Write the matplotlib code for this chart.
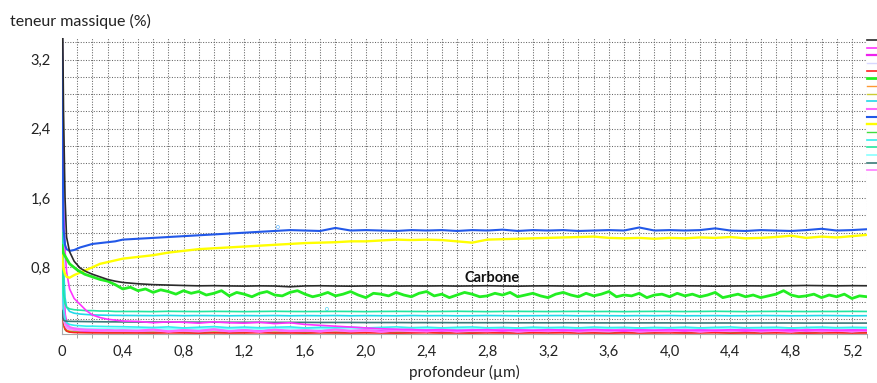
import numpy as np
import matplotlib.pyplot as plt

# ==========================================
# Data
# ==========================================

# depth grid (µm) for most profiles
depth = [0, 0.005, 0.01, 0.02, 0.03, 0.05, 0.08, 0.12, 0.16, 0.2, 0.25, 0.3, 0.35, 0.4,
         0.5, 0.6, 0.7, 0.8, 0.9, 1.0, 1.1,
         1.2, 1.3, 1.4, 1.5, 1.6, 1.7, 1.8,
         1.9, 2.0, 2.1, 2.2, 2.3, 2.4, 2.5,
         2.6, 2.7, 2.8, 2.9, 3.0, 3.1, 3.2,
         3.3, 3.4, 3.5, 3.6, 3.7, 3.8, 3.9,
         4.0, 4.1, 4.2, 4.3, 4.4, 4.5, 4.6,
         4.7, 4.8, 4.9, 5.0, 5.1, 5.2, 5.3]

# finer depth grid for the noisy green profile
depth_fine = [0, 0.005, 0.01, 0.02, 0.03, 0.04,
              0.05, 0.10, 0.15, 0.20, 0.25, 0.30, 0.35, 0.40, 0.45, 0.50,
              0.55, 0.60, 0.65, 0.70, 0.75, 0.80, 0.85, 0.90,
              0.95, 1.00, 1.05, 1.10, 1.15, 1.20, 1.25, 1.30,
              1.35, 1.40, 1.45, 1.50, 1.55, 1.60, 1.65, 1.70,
              1.75, 1.80, 1.85, 1.90, 1.95, 2.00, 2.05, 2.10,
              2.15, 2.20, 2.25, 2.30, 2.35, 2.40, 2.45, 2.50,
              2.55, 2.60, 2.65, 2.70, 2.75, 2.80, 2.85, 2.90,
              2.95, 3.00, 3.05, 3.10, 3.15, 3.20, 3.25, 3.30,
              3.35, 3.40, 3.45, 3.50, 3.55, 3.60, 3.65, 3.70,
              3.75, 3.80, 3.85, 3.90, 3.95, 4.00, 4.05, 4.10,
              4.15, 4.20, 4.25, 4.30, 4.35, 4.40, 4.45, 4.50,
              4.55, 4.60, 4.65, 4.70, 4.75, 4.80, 4.85, 4.90,
              4.95, 5.00, 5.05, 5.10, 5.15, 5.20, 5.25, 5.30]

carbone = [3.6, 3.5, 2.6, 1.6, 1.15, 0.98, 0.87, 0.79, 0.75, 0.72, 0.69, 0.66, 0.64, 0.625,
           0.610, 0.600, 0.595, 0.590, 0.586, 0.588, 0.585,
           0.583, 0.586, 0.584, 0.575, 0.585, 0.587, 0.584,
           0.582, 0.585, 0.586, 0.583, 0.585, 0.584, 0.586,
           0.583, 0.585, 0.587, 0.584, 0.582, 0.585, 0.586,
           0.584, 0.583, 0.585, 0.584, 0.586, 0.585, 0.583,
           0.584, 0.586, 0.585, 0.582, 0.584, 0.586, 0.585,
           0.584, 0.587, 0.590, 0.588, 0.586, 0.588, 0.587]

blue = [3.6, 2.0, 1.25, 1.06, 1.01, 0.99, 1.00, 1.03, 1.05, 1.07, 1.08, 1.09, 1.10, 1.12,
        1.13, 1.14, 1.15, 1.16, 1.17, 1.18, 1.19,
        1.20, 1.21, 1.22, 1.23, 1.225, 1.22, 1.255,
        1.225, 1.23, 1.225, 1.22, 1.23, 1.225, 1.23,
        1.22, 1.23, 1.225, 1.235, 1.22, 1.23, 1.225,
        1.23, 1.22, 1.225, 1.23, 1.225, 1.26, 1.225,
        1.23, 1.225, 1.23, 1.25, 1.225, 1.22, 1.23,
        1.225, 1.22, 1.23, 1.245, 1.225, 1.23, 1.24]

yellow = [0.95, 0.85, 0.78, 0.72, 0.69, 0.68, 0.71, 0.74, 0.77, 0.80, 0.84, 0.86, 0.88, 0.90,
          0.92, 0.94, 0.97, 0.99, 1.01, 1.02, 1.03,
          1.04, 1.05, 1.06, 1.07, 1.08, 1.085, 1.09,
          1.10, 1.10, 1.11, 1.12, 1.115, 1.12, 1.115,
          1.10, 1.085, 1.12, 1.125, 1.13, 1.135, 1.14,
          1.145, 1.15, 1.155, 1.14, 1.135, 1.14, 1.13,
          1.14, 1.135, 1.145, 1.14, 1.15, 1.135, 1.14,
          1.15, 1.165, 1.14, 1.155, 1.145, 1.16, 1.175]

green = [1.05, 1.0, 0.96, 0.93, 0.9, 0.87,
         0.84, 0.77, 0.72, 0.69, 0.66, 0.64, 0.60, 0.55, 0.57, 0.53,
         0.55, 0.51, 0.54, 0.52, 0.49, 0.53, 0.50, 0.52,
         0.48, 0.50, 0.53, 0.47, 0.51, 0.49, 0.46, 0.50,
         0.52, 0.48, 0.47, 0.51, 0.53, 0.49, 0.46, 0.48,
         0.51, 0.47, 0.49, 0.52, 0.48, 0.45, 0.50, 0.49,
         0.47, 0.51, 0.48, 0.46, 0.50, 0.52, 0.47, 0.49,
         0.45, 0.48, 0.51, 0.49, 0.46, 0.47, 0.50, 0.48,
         0.51, 0.46, 0.48, 0.50, 0.47, 0.45, 0.49, 0.51,
         0.48, 0.46, 0.50, 0.47, 0.49, 0.52, 0.46, 0.48,
         0.47, 0.50, 0.45, 0.48, 0.49, 0.46, 0.50, 0.47,
         0.49, 0.46, 0.48, 0.51, 0.45, 0.47, 0.49, 0.46,
         0.48, 0.45, 0.47, 0.49, 0.53, 0.48, 0.46, 0.47,
         0.49, 0.45, 0.48, 0.46, 0.49, 0.44, 0.47, 0.46]

spring = [1.2, 0.8, 0.5, 0.38, 0.34, 0.32, 0.31, 0.305, 0.30, 0.30, 0.295, 0.295, 0.29, 0.29,
          0.29, 0.288, 0.292, 0.29, 0.289, 0.291, 0.29,
          0.288, 0.29, 0.292, 0.29, 0.289, 0.29, 0.291,
          0.29, 0.288, 0.29, 0.291, 0.29, 0.289, 0.29,
          0.292, 0.29, 0.288, 0.29, 0.291, 0.29, 0.289,
          0.29, 0.291, 0.289, 0.29, 0.288, 0.29, 0.291,
          0.29, 0.289, 0.29, 0.292, 0.29, 0.288, 0.29,
          0.291, 0.29, 0.289, 0.29, 0.29, 0.291, 0.29]

cyan = [3.0, 1.6, 0.8, 0.45, 0.34, 0.29, 0.27, 0.26, 0.255, 0.25, 0.248, 0.246, 0.245, 0.244,
        0.243, 0.242, 0.244, 0.241, 0.243, 0.242, 0.24,
        0.242, 0.241, 0.243, 0.24, 0.242, 0.241, 0.243,
        0.24, 0.242, 0.241, 0.24, 0.243, 0.241, 0.242,
        0.24, 0.241, 0.243, 0.242, 0.24, 0.241, 0.242,
        0.243, 0.24, 0.242, 0.241, 0.24, 0.242, 0.241,
        0.243, 0.24, 0.241, 0.242, 0.24, 0.241, 0.243,
        0.242, 0.24, 0.241, 0.243, 0.242, 0.24, 0.241]

dark_teal = [0.3, 0.22, 0.19, 0.18, 0.178, 0.176, 0.175, 0.174, 0.173, 0.172, 0.171, 0.17, 0.17, 0.169,
             0.168, 0.168, 0.167, 0.167, 0.166, 0.166, 0.165,
             0.165, 0.165, 0.164, 0.164, 0.164, 0.163, 0.163,
             0.163, 0.162, 0.162, 0.162, 0.161, 0.161, 0.161,
             0.16, 0.16, 0.16, 0.16, 0.159, 0.159, 0.159,
             0.159, 0.159, 0.158, 0.158, 0.158, 0.158, 0.158,
             0.158, 0.157, 0.157, 0.157, 0.157, 0.157, 0.157,
             0.157, 0.157, 0.156, 0.156, 0.156, 0.156, 0.156]

cyan_low = [1.0, 0.5, 0.3, 0.2, 0.16, 0.14, 0.13, 0.125, 0.12, 0.12, 0.118, 0.116, 0.115, 0.114,
            0.11, 0.105, 0.112, 0.1, 0.108, 0.115, 0.103,
            0.11, 0.102, 0.108, 0.112, 0.1, 0.107, 0.104,
            0.109, 0.1, 0.106, 0.112, 0.103, 0.108, 0.101,
            0.107, 0.111, 0.102, 0.106, 0.1, 0.109, 0.104,
            0.108, 0.101, 0.11, 0.104, 0.107, 0.1, 0.106,
            0.103, 0.109, 0.101, 0.107, 0.111, 0.102, 0.105,
            0.108, 0.1, 0.106, 0.11, 0.103, 0.107, 0.105]

magenta = [3.6, 3.0, 1.5, 1.0, 0.75, 0.55, 0.44, 0.37, 0.30, 0.25, 0.22, 0.2, 0.19, 0.18,
           0.175, 0.16, 0.17, 0.165, 0.155, 0.17, 0.16,
           0.155, 0.165, 0.15, 0.16, 0.14, 0.13, 0.12,
           0.11, 0.1, 0.09, 0.085, 0.08, 0.075, 0.08,
           0.07, 0.075, 0.08, 0.07, 0.078, 0.072, 0.08,
           0.075, 0.07, 0.082, 0.074, 0.07, 0.078, 0.073,
           0.08, 0.071, 0.076, 0.07, 0.079, 0.074, 0.072,
           0.078, 0.07, 0.075, 0.08, 0.072, 0.076, 0.074]

magenta_low = [2.2, 1.0, 0.5, 0.25, 0.15, 0.1, 0.08, 0.07, 0.065, 0.07, 0.06, 0.075, 0.065, 0.07,
               0.06, 0.075, 0.055, 0.07, 0.062, 0.08, 0.058,
               0.072, 0.06, 0.078, 0.055, 0.068, 0.062, 0.075,
               0.058, 0.07, 0.064, 0.08, 0.056, 0.072, 0.06,
               0.077, 0.062, 0.07, 0.055, 0.074, 0.063, 0.068,
               0.058, 0.078, 0.061, 0.07, 0.056, 0.075, 0.064,
               0.069, 0.057, 0.076, 0.062, 0.07, 0.059, 0.074,
               0.063, 0.08, 0.058, 0.071, 0.06, 0.076, 0.065]

lavender = [0.4, 0.22, 0.13, 0.1, 0.092, 0.088, 0.086, 0.085, 0.085, 0.084, 0.084, 0.083, 0.083, 0.083,
            0.083, 0.082, 0.084, 0.082, 0.083, 0.081, 0.083,
            0.082, 0.084, 0.082, 0.081, 0.083, 0.082, 0.084,
            0.082, 0.081, 0.083, 0.082, 0.084, 0.081, 0.082,
            0.083, 0.082, 0.081, 0.083, 0.082, 0.084, 0.082,
            0.081, 0.083, 0.082, 0.084, 0.081, 0.082, 0.083,
            0.082, 0.084, 0.081, 0.083, 0.082, 0.081, 0.083,
            0.082, 0.084, 0.082, 0.081, 0.083, 0.082, 0.083]

red = [0.32, 0.24, 0.15, 0.09, 0.065, 0.052, 0.047, 0.045, 0.044, 0.043, 0.043, 0.042, 0.042, 0.042,
       0.042, 0.041, 0.043, 0.042, 0.04, 0.043, 0.041,
       0.042, 0.044, 0.041, 0.042, 0.04, 0.043, 0.042,
       0.041, 0.043, 0.042, 0.04, 0.042, 0.044, 0.041,
       0.042, 0.04, 0.043, 0.042, 0.041, 0.043, 0.042,
       0.044, 0.041, 0.042, 0.04, 0.043, 0.041, 0.042,
       0.043, 0.041, 0.042, 0.044, 0.04, 0.042, 0.041,
       0.043, 0.042, 0.04, 0.042, 0.043, 0.041, 0.042]

orange = [0.28, 0.19, 0.12, 0.08, 0.065, 0.057, 0.054, 0.052, 0.051, 0.05, 0.05, 0.05, 0.05, 0.05,
          0.05, 0.052, 0.049, 0.051, 0.053, 0.048, 0.05,
          0.052, 0.049, 0.051, 0.05, 0.053, 0.048, 0.051,
          0.05, 0.052, 0.049, 0.05, 0.053, 0.051, 0.048,
          0.05, 0.052, 0.05, 0.049, 0.051, 0.053, 0.05,
          0.048, 0.051, 0.05, 0.052, 0.049, 0.05, 0.053,
          0.051, 0.049, 0.05, 0.052, 0.048, 0.051, 0.05,
          0.052, 0.049, 0.051, 0.05, 0.053, 0.05, 0.051]

olive = [0.5, 0.3, 0.16, 0.1, 0.075, 0.065, 0.062, 0.06, 0.059, 0.058, 0.058, 0.058, 0.058, 0.058,
         0.058, 0.06, 0.056, 0.059, 0.061, 0.057, 0.058,
         0.06, 0.056, 0.058, 0.061, 0.057, 0.059, 0.058,
         0.056, 0.06, 0.058, 0.057, 0.061, 0.058, 0.059,
         0.057, 0.06, 0.058, 0.056, 0.059, 0.061, 0.058,
         0.06, 0.057, 0.058, 0.06, 0.056, 0.059, 0.058,
         0.061, 0.057, 0.059, 0.058, 0.06, 0.056, 0.058,
         0.059, 0.061, 0.057, 0.058, 0.06, 0.058, 0.059]

pink = [1.5, 0.8, 0.4, 0.2, 0.14, 0.11, 0.095, 0.085, 0.08, 0.078, 0.075, 0.072, 0.07, 0.07,
        0.068, 0.082, 0.06, 0.075, 0.065, 0.085, 0.062,
        0.074, 0.058, 0.08, 0.066, 0.072, 0.06, 0.084,
        0.065, 0.076, 0.058, 0.07, 0.082, 0.062, 0.075,
        0.06, 0.078, 0.066, 0.084, 0.059, 0.072, 0.064,
        0.08, 0.061, 0.074, 0.067, 0.083, 0.058, 0.071,
        0.065, 0.079, 0.06, 0.075, 0.068, 0.085, 0.062,
        0.073, 0.059, 0.081, 0.066, 0.074, 0.061, 0.078]

green_low = [0.6, 0.3, 0.15, 0.08, 0.06, 0.052, 0.05, 0.049, 0.048, 0.048, 0.047, 0.047, 0.047, 0.047,
             0.047, 0.046, 0.048, 0.047, 0.045, 0.048, 0.046,
             0.047, 0.049, 0.046, 0.047, 0.045, 0.048, 0.047,
             0.046, 0.048, 0.047, 0.045, 0.047, 0.049, 0.046,
             0.047, 0.045, 0.048, 0.047, 0.046, 0.048, 0.047,
             0.049, 0.046, 0.047, 0.045, 0.048, 0.046, 0.047,
             0.048, 0.046, 0.047, 0.049, 0.045, 0.047, 0.046,
             0.048, 0.047, 0.045, 0.047, 0.048, 0.046, 0.047]

light_cyan = [0.8, 0.4, 0.2, 0.13, 0.11, 0.1, 0.097, 0.095, 0.094, 0.093, 0.093, 0.092, 0.092, 0.092,
              0.092, 0.096, 0.089, 0.094, 0.09, 0.097, 0.091,
              0.095, 0.088, 0.093, 0.097, 0.09, 0.094, 0.089,
              0.096, 0.091, 0.094, 0.088, 0.095, 0.092, 0.097,
              0.09, 0.093, 0.089, 0.096, 0.091, 0.094, 0.088,
              0.095, 0.092, 0.09, 0.097, 0.091, 0.094, 0.089,
              0.093, 0.096, 0.09, 0.094, 0.088, 0.095, 0.092,
              0.09, 0.096, 0.091, 0.094, 0.089, 0.093, 0.095]

pink_low = [1.0, 0.5, 0.25, 0.14, 0.1, 0.085, 0.078, 0.072, 0.07, 0.068, 0.066, 0.065, 0.064, 0.064,
            0.062, 0.07, 0.056, 0.066, 0.058, 0.072, 0.06,
            0.065, 0.055, 0.07, 0.061, 0.067, 0.057, 0.071,
            0.059, 0.066, 0.054, 0.069, 0.062, 0.058, 0.071,
            0.056, 0.065, 0.06, 0.07, 0.055, 0.066, 0.061,
            0.069, 0.057, 0.064, 0.058, 0.072, 0.056, 0.063,
            0.06, 0.07, 0.055, 0.066, 0.062, 0.071, 0.058,
            0.064, 0.056, 0.069, 0.06, 0.067, 0.057, 0.068]

x_ticks = [0, 0.4, 0.8, 1.2, 1.6, 2.0, 2.4, 2.8, 3.2, 3.6, 4.0, 4.4, 4.8, 5.2]
x_tick_labels = ["0", "0,4", "0,8", "1,2", "1,6", "2,0", "2,4", "2,8",
                 "3,2", "3,6", "4,0", "4,4", "4,8", "5,2"]
y_ticks = [0.8, 1.6, 2.4, 3.2]
y_tick_labels = ["0,8", "1,6", "2,4", "3,2"]

# ==========================================
# Series in legend order: (values, depth grid, colour, width, z)
# ==========================================

series = [
    (carbone, depth, "#2a2a2a", 1.2, 9),
    (magenta, depth, "#ff33ff", 1.2, 6),
    (magenta_low, depth, "#ee22ee", 1.6, 3),
    (lavender, depth, "#d8d8ff", 1.0, 2),
    (red, depth, "#ff2020", 1.2, 3),
    (green, depth_fine, "#22ee22", 2.0, 8),
    (orange, depth, "#ff9933", 1.0, 2),
    (olive, depth, "#cccc33", 1.0, 2),
    (cyan, depth, "#22d8e8", 1.2, 5),
    (pink, depth, "#ff66ff", 1.5, 4),
    (blue, depth, "#2258e8", 1.5, 8),
    (yellow, depth, "#ffff00", 1.7, 7),
    (green_low, depth, "#40dd40", 1.0, 2),
    (cyan_low, depth, "#33eeee", 1.2, 4),
    (spring, depth, "#22e6a0", 1.2, 5),
    (light_cyan, depth, "#88ffff", 1.2, 3),
    (dark_teal, depth, "#3a7a78", 1.2, 5),
    (pink_low, depth, "#ff88ff", 1.3, 3),
]

# ==========================================
# Plot
# ==========================================

plt.rcParams["font.family"] = ["Lato", "DejaVu Sans"]

fig = plt.figure(figsize=(8.77, 3.83), dpi=100)
ax = fig.add_axes([0.0707, 0.128, 0.918, 0.773])

handles = []
for values, x, color, lw, z in series:
    line, = ax.plot(x, values, color=color, linewidth=lw, zorder=z)
    handles.append(line)

ax.text(2.83, 0.675, "Carbone", fontsize=10.5, fontweight="bold",
        ha="center", va="center", color="#111111", zorder=10)
ax.text(1.42, 1.275, "o", fontsize=5, color="#44aaff", ha="center", va="center", zorder=10)
ax.text(1.74, 0.33, "o", fontsize=5, color="#33ccee", ha="center", va="center", zorder=10)

ax.set_xlim(0, 5.3)
ax.set_ylim(0.03, 3.45)

ax.set_xticks(x_ticks)
ax.set_xticklabels(x_tick_labels)
ax.set_yticks(y_ticks)
ax.set_yticklabels(y_tick_labels)
ax.set_xticks(np.arange(0, 5.31, 0.1), minor=True)
ax.set_yticks(np.arange(0.2, 3.41, 0.2), minor=True)

ax.tick_params(axis="both", which="major", length=0, labelsize=10.5,
               colors="#222222", pad=8)
ax.tick_params(axis="x", which="minor", length=3, color="#999999")
ax.tick_params(axis="y", which="minor", length=0)

ax.grid(True, which="both", color="#666666", linestyle=(0, (1, 1.5)),
        linewidth=0.75, zorder=0)
ax.set_axisbelow(True)

for side in ["top", "right"]:
    ax.spines[side].set_visible(False)
for side in ["left", "bottom"]:
    ax.spines[side].set_color("#aaaaaa")

fig.text(0.011, 0.945, "teneur massique (%)", fontsize=11.5, color="#222222",
         ha="left", va="center")
ax.set_xlabel("profondeur (µm)", fontsize=11, color="#222222", labelpad=4)

# legend swatches at the right edge (their labels fall outside the picture)
fig.legend(handles, [""] * len(handles), loc="upper left",
           bbox_to_anchor=(0.989, 0.901), frameon=False, fontsize=4,
           handlelength=2.0, handletextpad=0, labelspacing=0.48,
           borderpad=0, borderaxespad=0)

plt.savefig("out.png", dpi=100)

print("=" * 60)
print("Chart Saved Successfully")
print("=" * 60)
